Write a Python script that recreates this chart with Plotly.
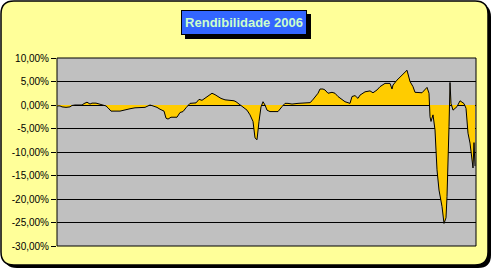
import plotly.graph_objects as go

# Session position (chart-relative) and daily return (%)
sessao = [0, 3, 5, 9, 13, 15, 18, 25, 27, 30, 33, 35, 39, 42, 46, 49, 51, 54, 63, 68, 73, 78, 83, 88,
          91, 93, 96, 100, 103, 107, 109, 111, 114, 120, 123, 126, 129, 131, 133, 139, 142, 145, 148,
          151, 155, 158, 161, 164, 168, 173, 177, 179, 183, 186, 190, 193, 196, 198, 200, 202, 204,
          206, 208, 210, 213, 216, 221, 225, 228, 231, 235, 241, 248, 253, 255, 258, 261, 263, 266,
          268, 271, 275, 278, 281, 285, 288, 293, 295, 298, 301, 303, 308, 313, 316, 320, 323, 328,
          333, 335, 336, 340, 345, 350, 353, 356, 358, 361, 365, 370, 372, 373, 374, 376, 378, 379,
          380, 382, 385, 387, 389, 390, 391, 392, 393, 394, 396, 400, 403, 407, 409, 410, 411, 413,
          415, 416, 417, 418, 419]
retorno = [-0.2, -0.2, -0.4, -0.5, -0.4, -0.1, 0.0, 0.0, 0.3, 0.6, 0.2, 0.4, 0.4, 0.2, 0.0, -0.2,
           -0.6, -1.3, -1.3, -1.0, -0.8, -0.6, -0.5, -0.5, -0.2, 0.0, -0.2, -0.5, -0.9, -1.3, -2.8,
           -3.0, -2.6, -2.6, -1.6, -1.4, -0.6, 0.0, 0.35, 0.45, 1.2, 1.0, 1.5, 2.0, 2.5, 2.2, 1.8,
           1.4, 1.1, 1.0, 0.9, 0.7, 0.1, -0.35, -1.1, -2.1, -3.5, -7.0, -7.4, -3.5, -0.4, 0.7, 0.0,
           -1.1, -1.4, -1.4, -1.4, -0.35, 0.35, 0.35, 0.2, 0.35, 0.5, 0.5, 0.9, 1.8, 2.5, 3.4, 3.4,
           3.2, 2.5, 2.7, 2.5, 1.8, 1.2, 0.7, 0.35, 1.8, 2.0, 1.4, 2.1, 2.8, 3.0, 2.6, 3.2, 3.9,
           4.6, 4.6, 3.4, 4.25, 5.3, 6.4, 7.4, 5.0, 3.9, 2.7, 2.6, 2.6, 3.75, 2.5, -2.5, -3.5, -2.1,
           -5.3, -9.6, -13.8, -18.1, -21.6, -25.2, -24.0, -19.5, -13.1, -4.6, 4.8, 0.35, -1.1,
           -0.35, 0.9, 0.3, -0.7, -3.2, -6.0, -8.1, -11.0, -13.4, -8.0, -13.0]

tick_vals = [10, 5, 0, -5, -10, -15, -20, -25, -30]
tick_text = ["10,00%", "5,00%", "0,00%", "-5,00%", "-10,00%", "-15,00%", "-20,00%", "-25,00%", "-30,00%"]
titulo = "Rendibilidade 2006"

W, H = 493, 272
L, R, T, B = 57, 476, 58, 246


def px(x):
    return (x - L) / (R - L)


def py(y):
    return (B - y) / (B - T)


def rounded(x0, y0, x1, y1, r):
    a0, a1 = px(x0), px(x1)
    b0, b1 = py(y0), py(y1)  # b0 top, b1 bottom
    rx = r / (R - L)
    ry = r / (B - T)
    return (f"M {a0+rx},{b0} L {a1-rx},{b0} Q {a1},{b0} {a1},{b0-ry} "
            f"L {a1},{b1+ry} Q {a1},{b1} {a1-rx},{b1} L {a0+rx},{b1} "
            f"Q {a0},{b1} {a0},{b1+ry} L {a0},{b0-ry} Q {a0},{b0} {a0+rx},{b0} Z")


fig = go.Figure()
fig.add_trace(go.Scatter(
    x=sessao, y=retorno, mode="lines", fill="tozeroy",
    fillcolor="#FFCC00", line=dict(color="black", width=1),
    hoverinfo="skip", showlegend=False))

shapes = [
    dict(type="path", xref="paper", yref="paper", path=rounded(4, 4, 491, 268, 13),
         fillcolor="black", line=dict(width=0), layer="below"),
    dict(type="path", xref="paper", yref="paper", path=rounded(1, 1, 488, 265, 13),
         fillcolor="#FFFF99", line=dict(color="black", width=1.5), layer="below"),
    dict(type="rect", xref="paper", yref="paper", x0=0, x1=1, y0=0, y1=1,
         fillcolor="#C0C0C0", line=dict(color="black", width=1), layer="below"),
    dict(type="rect", xref="paper", yref="paper", x0=px(185), x1=px(311), y0=py(14), y1=py(39),
         fillcolor="black", line=dict(width=0), layer="below"),
]

fig.update_layout(
    width=W, height=H,
    margin=dict(l=L, r=W - R, t=T, b=H - B),
    paper_bgcolor="white", plot_bgcolor="rgba(0,0,0,0)",
    shapes=shapes,
    xaxis=dict(range=[0, 419], showgrid=False, zeroline=False, showticklabels=False,
               ticks="", showline=False, fixedrange=True),
    yaxis=dict(range=[-30, 10], tickvals=tick_vals, ticktext=tick_text,
               showgrid=True, gridcolor="black", gridwidth=1,
               zeroline=True, zerolinecolor="black", zerolinewidth=1,
               ticks="outside", ticklen=5, tickcolor="black",
               tickfont=dict(family="Arial", size=10, color="black"),
               showline=False, fixedrange=True),
    annotations=[dict(
        text=f"<b>{titulo}</b>", xref="paper", yref="paper",
        x=px(244), y=py(22.5), xanchor="center", yanchor="middle", showarrow=False,
        font=dict(family="Arial", size=13, color="#CCFFCC"),
        bgcolor="#3366FF", bordercolor="black", borderwidth=1, borderpad=1,
        width=122, height=21)],
)

fig.write_html("out.html")
